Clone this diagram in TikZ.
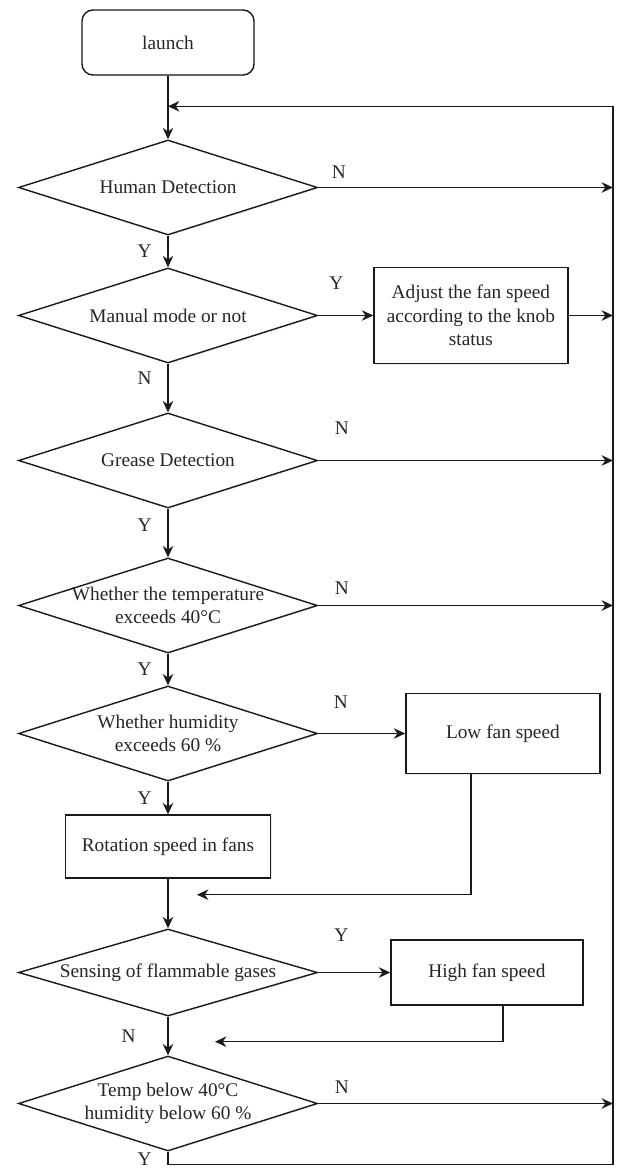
\documentclass[tikz,border=0pt]{standalone}
\usepackage{fontspec}
\setmainfont{Liberation Serif}
\usepackage{tikz}
\usetikzlibrary{shapes.geometric,positioning,arrows.meta,shadows}
\definecolor{fanLine}{HTML}{1A1A1A}
\definecolor{fanText}{HTML}{262626}
\newcommand{\flowfont}{\fontsize{11}{13.4}\selectfont}
\tikzset{
  softshadow/.style={drop shadow={shadow xshift=0.6pt,shadow yshift=-0.6pt,opacity=0.15}},
  launchbox/.style={rectangle,rounded corners=0.22cm,draw=fanLine,fill=white,line width=0.8pt,
    minimum width=3.44cm,minimum height=1.3cm,align=center,font=\flowfont,text=fanText,softshadow},
  block/.style={rectangle,draw=fanLine,fill=white,line width=0.8pt,
    minimum width=3.88cm,minimum height=1.6cm,align=center,font=\flowfont,text=fanText,softshadow},
  dtext/.style={align=center,font=\flowfont,text=fanText},
  decision/.style={diamond,draw=fanLine,fill=white,line width=0.8pt,inner sep=0pt,
    minimum width=5.98cm,minimum height=1.9cm,softshadow,label={[dtext]center:#1}},
  arrow/.style={-{Stealth[length=6.5pt,width=6pt]},line width=0.8pt,draw=fanLine},
  yn/.style={font=\flowfont,text=fanText,inner sep=1pt}
}

\begin{document}
\begin{tikzpicture}[node distance=2.9cm]
\useasboundingbox (-3.36,0.85) rectangle (8.96,-22.57);
\node[launchbox] (launch) {launch};
\node[decision={Human Detection}, below of=launch] (human) {};
\node[decision={Manual mode or not}, below of=human, yshift=0.34cm] (manual) {};
\node[block, right=1.1cm of manual, minimum height=1.92cm] (adjust) {Adjust the fan speed\\according to the knob\\status};
\node[decision={Grease Detection}, below of=manual] (grease) {};
\node[decision={Whether the temperature\\exceeds 40°C}, below of=grease] (temp) {};
\node[decision={Whether humidity\\exceeds 60 \%}, below of=temp, yshift=0.34cm] (humid) {};
\node[block, right=1.74cm of humid] (low) {Low fan speed};
\node[block, below of=humid, yshift=0.64cm, minimum width=4.1cm, minimum height=1.26cm] (rot) {Rotation speed in fans};
\node[decision={Sensing of flammable gases}, below of=rot, yshift=0.38cm, minimum height=1.74cm] (flam) {};
\node[block, right=1.44cm of flam, minimum width=3.84cm, minimum height=1.3cm] (high) {High fan speed};
\node[decision={Temp below 40°C\\humidity below 60 \%}, below of=flam, yshift=0.28cm] (final) {};

\coordinate (loopin) at ([yshift=0.66cm]human.north);
\coordinate (rail) at ([xshift=8.9cm]human.center);
\coordinate (lowjoin) at ([xshift=0.58cm,yshift=-0.32cm]rot.south);
\coordinate (highjoin) at ([xshift=0.94cm,yshift=-0.5cm]flam.south);

% main column
\draw[arrow] (launch) -- (human);
\draw[arrow] (human) -- node[yn,left=0.28cm] {Y} (manual);
\draw[arrow] (manual) -- node[yn,left=0.28cm,pos=0.3] {N} (grease);
\draw[arrow] (grease) -- node[yn,left=0.28cm,pos=0.34] {Y} (temp);
\draw[arrow] (temp) -- node[yn,left=0.28cm] {Y} (humid);
\draw[arrow] (humid) -- node[yn,left=0.28cm] {Y} (rot);
\draw[arrow] (rot) -- (flam);
\draw[arrow] (flam) -- node[yn,left=0.6cm] {N} (final);

% branches to the right
\draw[arrow] (human.east) -- node[yn,pos=0.07,above=0.14cm] {N} (human.east -| rail);
\draw[arrow] (manual) -- node[yn,pos=0.33,above=0.47cm] {Y} (adjust);
\draw[arrow] (adjust.east) -- (adjust.east -| rail);
\draw[arrow] (grease.east) -- node[yn,pos=0.08,above=0.47cm] {N} (grease.east -| rail);
\draw[arrow] (temp.east) -- node[yn,pos=0.08,above=0.17cm] {N} (temp.east -| rail);
\draw[arrow] (humid) -- node[yn,pos=0.26,above=0.46cm] {N} (low);
\draw[arrow] ([xshift=-0.64cm]low.south) |- (lowjoin);
\draw[arrow] (flam) -- node[yn,pos=0.32,above=0.57cm] {Y} (high);
\draw[arrow] ([xshift=0.32cm]high.south) |- (highjoin);
\draw[arrow] (final.east) -- node[yn,pos=0.08,above=0.155cm] {N} (final.east -| rail);

% back to the top
\draw[arrow] (final.south) -- node[yn,left=0.28cm,pos=1,yshift=0.12cm] {Y} ++(0,-0.26) -| (rail |- loopin) -- (loopin);
\end{tikzpicture}
\end{document}
